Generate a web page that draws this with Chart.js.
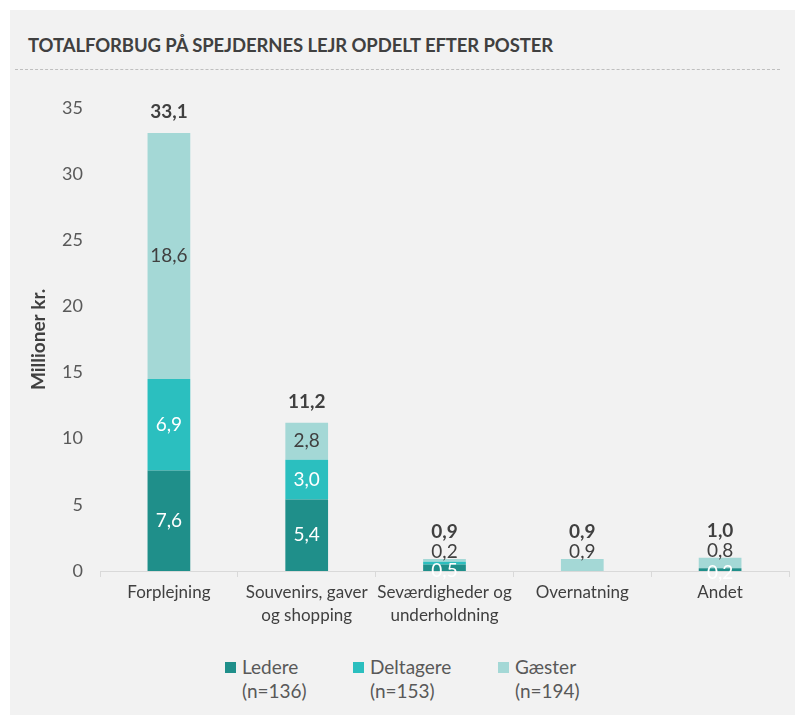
<!DOCTYPE html>
<html>
<head>
<meta charset="utf-8">
<script src="https://cdn.jsdelivr.net/npm/chart.js@4.4.1/dist/chart.umd.min.js"></script>
<style>
  body { margin: 0; background: #fff; font-family: Lato, "Open Sans", sans-serif; }
  #panel { position: absolute; left: 10px; top: 10px; width: 785px; height: 705px; background: #f2f2f2; }
  #title { position: absolute; left: 18px; top: 24px; font-size: 18.5px; font-weight: bold; color: #404040; letter-spacing: -0.1px; }
  #rule { position: absolute; left: 5px; top: 59px; width: 765px; border-top: 1px dashed #bfbfbf; }
  #wrap { position: absolute; left: 0; top: 70px; width: 785px; height: 560px; }
  #legend { position: absolute; left: 215px; top: 645px; display: flex; font-size: 19px; color: #595959; line-height: 24px; }
  .item { display: flex; align-items: flex-start; }
  .box { width: 11px; height: 11px; margin: 7px 6px 0 0; }
</style>
</head>
<body>
<div id="panel">
  <div id="title">TOTALFORBUG PÅ SPEJDERNES LEJR OPDELT EFTER POSTER</div>
  <div id="rule"></div>
  <div id="wrap"><canvas id="chart" width="785" height="560"></canvas></div>
  <div id="legend"></div>
</div>
<script>
const categories = ['Forplejning', ['Souvenirs, gaver', 'og shopping'], ['Seværdigheder og', 'underholdning'], 'Overnatning', 'Andet'];
const ledere = [7.6, 5.4, 0.5, 0, 0.2];
const deltagere = [6.9, 3.0, 0.2, 0, 0];
const gaester = [18.6, 2.8, 0.2, 0.9, 0.8];
const totals = [33.1, 11.2, 0.9, 0.9, 1.0];
const seriesNames = ['Ledere', 'Deltagere', 'Gæster'];
const seriesN = ['(n=136)', '(n=153)', '(n=194)'];
const colors = ['#1f8f8a', '#2bbfbf', '#a4d8d6'];
const labelColors = ['#ffffff', '#ffffff', '#404040'];
const FONT = 'Lato, "Open Sans", sans-serif';

const fmt = v => v.toFixed(1).replace('.', ',');

const labelPlugin = {
  id: 'labels',
  afterDatasetsDraw(chart) {
    const ctx = chart.ctx;
    ctx.save();
    ctx.textAlign = 'center';
    ctx.textBaseline = 'middle';
    ctx.font = '19px ' + FONT;
    chart.data.datasets.forEach((ds, di) => {
      chart.getDatasetMeta(di).data.forEach((bar, i) => {
        const v = ds.data[i];
        if (!v) return;
        const h = bar.base - bar.y;
        let y = (bar.y + bar.base) / 2;
        if (h < 16) {
          if (di === 1) return;
          y = di === 2 ? bar.y - 7 : y + 3;
        }
        ctx.fillStyle = labelColors[di];
        ctx.fillText(fmt(v), bar.x, y);
      });
    });
    // totals above stacks
    const top = chart.getDatasetMeta(2).data;
    ctx.font = 'bold 19px ' + FONT;
    ctx.fillStyle = '#404040';
    totals.forEach((t, i) => {
      const bar = top[i];
      const y = chart.scales.y.getPixelForValue(t);
      const off = (bar.base - bar.y) < 16 ? 27 : 21;
      ctx.fillText(fmt(t), bar.x, y - off);
    });
    ctx.restore();
  }
};

new Chart(document.getElementById('chart'), {
  type: 'bar',
  data: {
    labels: categories,
    datasets: [ledere, deltagere, gaester].map((d, i) => ({
      label: seriesNames[i],
      data: d,
      backgroundColor: colors[i],
      barPercentage: 0.31,
      categoryPercentage: 1
    }))
  },
  options: {
    responsive: false,
    animation: false,
    layout: { padding: { top: 27, right: 6, left: 0, bottom: 0 } },
    plugins: { legend: { display: false }, tooltip: { enabled: false } },
    scales: {
      x: {
        stacked: true,
        afterFit: s => { s.height = 69; },
        grid: { drawOnChartArea: false, color: '#d9d9d9', tickLength: 6, offset: true },
        border: { color: '#d9d9d9', width: 1 },
        ticks: { color: '#404040', font: { size: 17, family: FONT, lineHeight: 1.35 }, padding: 4, maxRotation: 0, autoSkip: false }
      },
      y: {
        stacked: true,
        min: 0, max: 35,
        afterFit: s => { s.width = 90; },
        grid: { display: false, drawTicks: false },
        border: { display: false },
        ticks: { stepSize: 5, color: '#595959', font: { size: 18, family: FONT }, padding: 17 },
        title: { display: true, text: 'Millioner kr.', color: '#404040', font: { size: 19, weight: 'bold', family: FONT }, padding: { top: 17 } }
      }
    }
  },
  plugins: [labelPlugin]
});

const legend = document.getElementById('legend');
const widths = [128, 145, 100];
seriesNames.forEach((n, i) => {
  const el = document.createElement('div');
  el.className = 'item';
  el.style.width = widths[i] + 'px';
  el.innerHTML = '<div class="box" style="background:' + colors[i] + '"></div><div>' + n + '<br>' + seriesN[i] + '</div>';
  legend.appendChild(el);
});
</script>
</body>
</html>
